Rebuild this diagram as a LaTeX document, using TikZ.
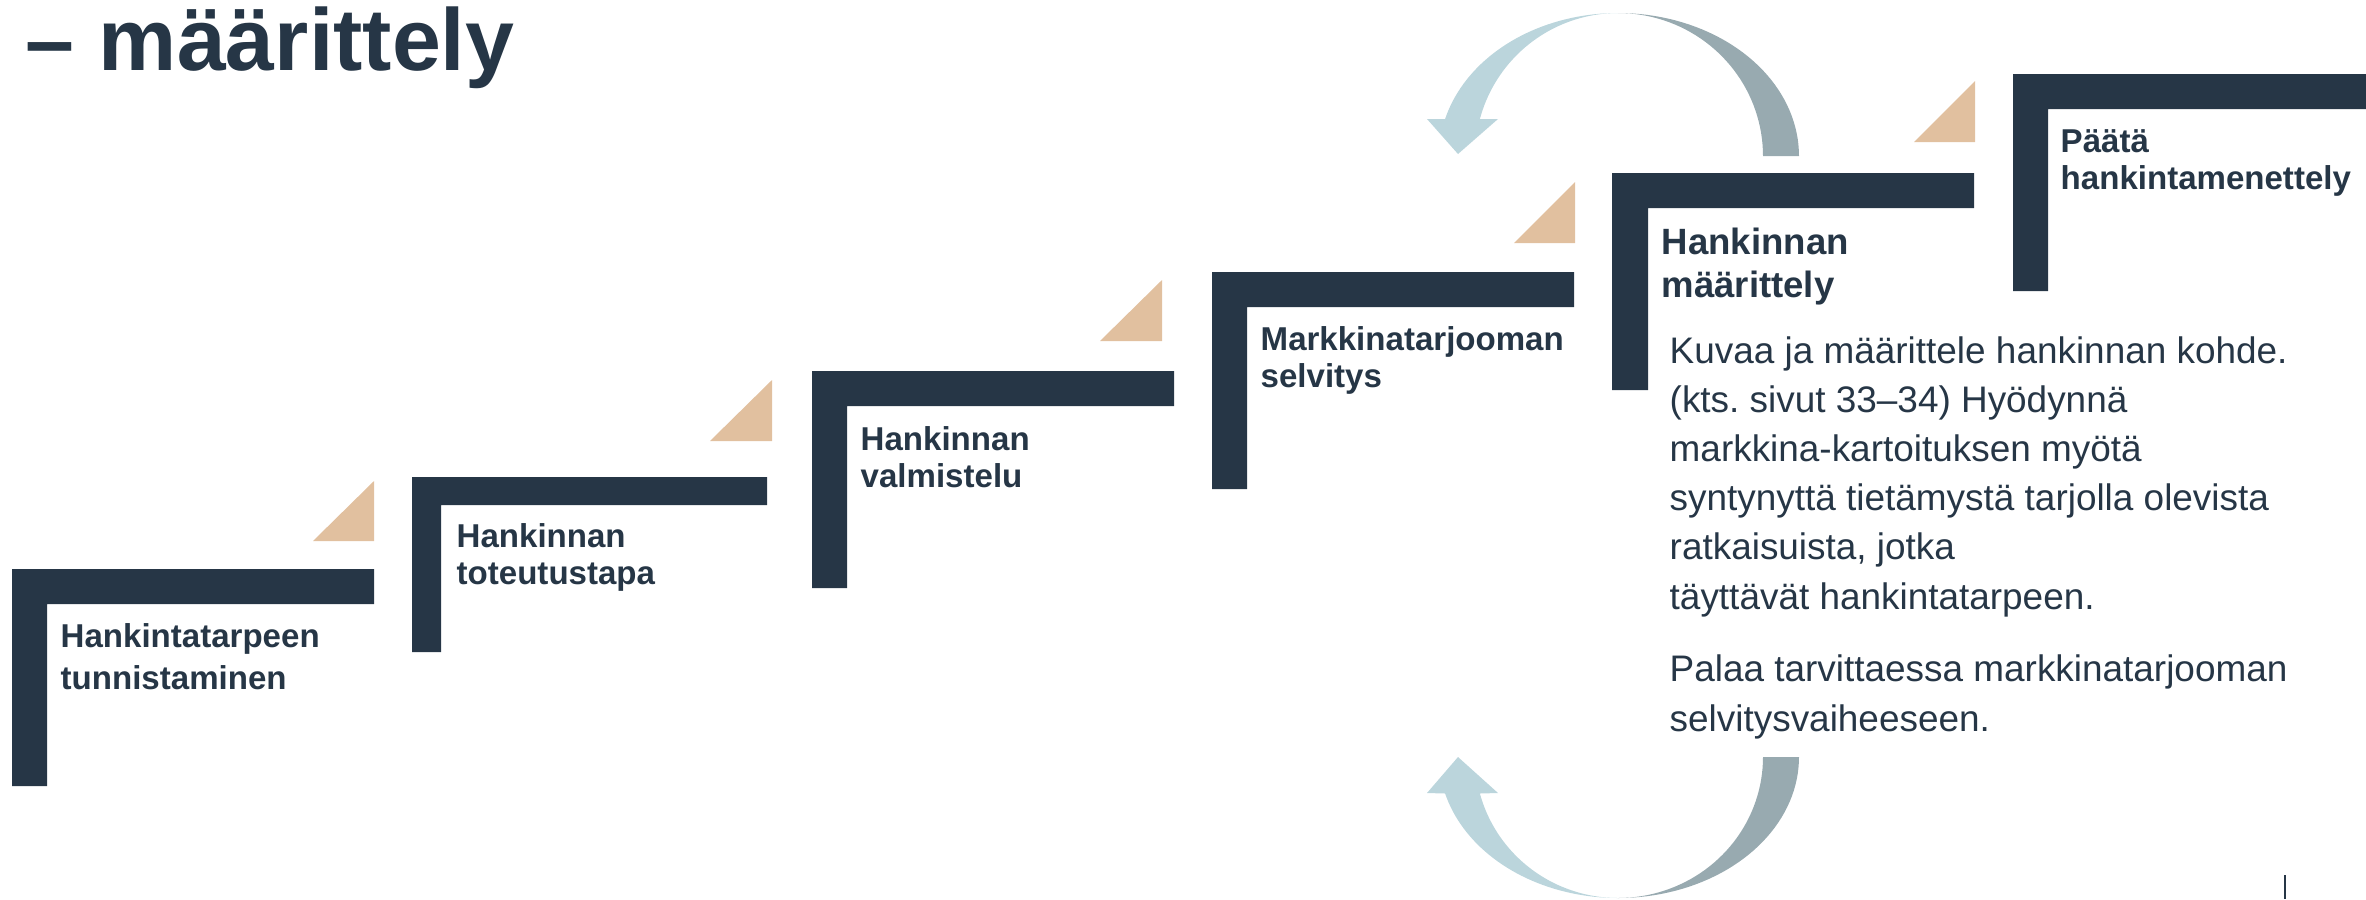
\documentclass[tikz,border=0pt]{standalone}
\usepackage{fontspec}
\setmainfont{Liberation Sans}
\usepackage{tikz}
\definecolor{navy}{HTML}{263646}
\definecolor{sand}{HTML}{E1C09F}
\definecolor{lightarc}{HTML}{BBD5DC}
\definecolor{greyarc}{HTML}{98AAB0}
\frenchspacing

\begin{document}
\begin{tikzpicture}[x=0.01cm,y=-0.01cm]
	\tikzstyle{bar} = [fill=navy]
	\tikzstyle{corner} = [fill=sand]
	\tikzstyle{stage} = [anchor=base west, inner sep=0pt, align=left, text=navy, font=\bfseries\fontsize{9.4}{10.5}\selectfont]
	\tikzstyle{desc} = [anchor=base west, inner sep=0pt, align=left, text=navy, font=\fontsize{10.5}{13.95}\selectfont]
	\useasboundingbox (0,0) rectangle (2366,899);

	\node [anchor=base west, inner sep=0pt, text=navy, font=\bfseries\fontsize{25}{28}\selectfont] (title) at (25,70) {– määrittely};

	% steps
	\fill [bar] (12,786) -- (12,569) -- (374,569) -- (374,604) -- (47,604) -- (47,786) -- cycle;
	\fill [corner] (313,541) -- (374,541) -- (374,481) -- cycle;
	\fill [bar] (412,652) -- (412,477) -- (767,477) -- (767,505) -- (441,505) -- (441,652) -- cycle;
	\fill [corner] (710,441) -- (772,441) -- (772,380) -- cycle;
	\fill [bar] (812,588) -- (812,371) -- (1174,371) -- (1174,406) -- (847,406) -- (847,588) -- cycle;
	\fill [corner] (1100,341) -- (1162,341) -- (1162,280) -- cycle;
	\fill [bar] (1212,489) -- (1212,272) -- (1574,272) -- (1574,307) -- (1247,307) -- (1247,489) -- cycle;
	\fill [corner] (1514,243) -- (1575,243) -- (1575,182) -- cycle;
	\fill [bar] (1612,390) -- (1612,173) -- (1974,173) -- (1974,208) -- (1648,208) -- (1648,390) -- cycle;
	\fill [corner] (1914,142) -- (1975,142) -- (1975,81) -- cycle;
	\fill [bar] (2013,291) -- (2013,74) -- (2380,74) -- (2380,109) -- (2048,109) -- (2048,291) -- cycle;

	% labels sit on the baseline of their last line
	\node [stage] (need) at (60,689) {Hankintatarpeen\\[1.4pt]tunnistaminen};
	\node [stage] (mode) at (456,584) {Hankinnan\\toteutustapa};
	\node [stage] (prep) at (860,487) {Hankinnan\\valmistelu};
	\node [stage] (market) at (1260,387) {Markkinatarjooman\\selvitys};
	\node [stage, font=\bfseries\fontsize{10.4}{12.2}\selectfont] (define) at (1661,297) {Hankinnan\\määrittely};
	\node [stage] (decide) at (2060,189) {Päätä\\hankintamenettely};

	\node [desc] (task) at (1669,609) {Kuvaa ja määrittele hankinnan kohde.\\(kts. sivut 33–34) Hyödynnä\\markkina-kartoituksen myötä\\syntynyttä tietämystä tarjolla olevista\\ratkaisuista, jotka\\täyttävät hankintatarpeen.};
	\node [desc] (back) at (1669,731) {Palaa tarvittaessa markkinatarjooman\\selvitysvaiheeseen.};

	% loop arrows
	\fill [greyarc] plot[domain=0:90,samples=40] ({1618+181*sin(\x)},{156-143*cos(\x)}) -- plot[domain=90:0,samples=40] ({1618+145*sin(\x)},{156-143*cos(\x)}) -- cycle;
	\fill [lightarc] plot[domain=0:75,samples=40] ({1618-179*sin(\x)},{156-143*cos(\x)}) -- (1427,119) -- (1458,154) -- (1498,119) -- plot[domain=75:0,samples=40] ({1618-143*sin(\x)},{156-143*cos(\x)}) -- cycle;
	\fill [greyarc] plot[domain=0:90,samples=40] ({1618+181*sin(\x)},{757+141*cos(\x)}) -- plot[domain=90:0,samples=40] ({1618+145*sin(\x)},{757+141*cos(\x)}) -- cycle;
	\fill [lightarc] plot[domain=0:75,samples=40] ({1618-179*sin(\x)},{757+141*cos(\x)}) -- (1427,793) -- (1458,757) -- (1498,793) -- plot[domain=75:0,samples=40] ({1618-143*sin(\x)},{757+141*cos(\x)}) -- cycle;

	\draw [navy, line width=0.4pt] (2285,875) -- (2285,899);
\end{tikzpicture}
\end{document}
